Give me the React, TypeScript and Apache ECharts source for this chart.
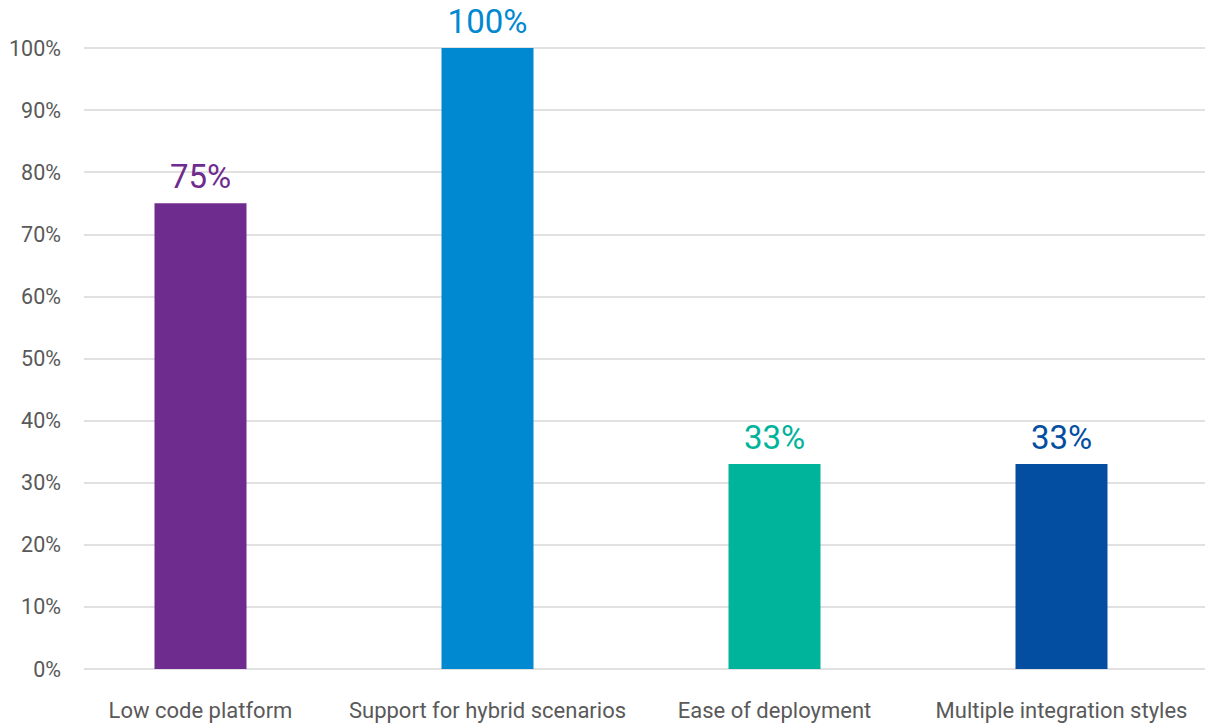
import React, { useEffect, useRef } from "react";
import * as echarts from "echarts";

const categories = [
  "Low code platform",
  "Support for hybrid scenarios",
  "Ease of deployment",
  "Multiple integration styles",
];
const values = [75, 100, 33, 33];
const barColors = ["#6F2C8F", "#0089D1", "#00B39B", "#044EA2"];
const yTicks = { min: 0, max: 100, interval: 10 };

const FONT = "Roboto, 'Noto Sans', sans-serif";

export default function App() {
  const ref = useRef<HTMLDivElement>(null);
  useEffect(() => {
    document.body.style.margin = "0";
    const chart = echarts.init(ref.current!, null, { renderer: "svg" });
    chart.setOption({
      animation: false,
      backgroundColor: "#ffffff",
      grid: [
        { left: 84, right: 0, top: 48, bottom: 55 },
        { left: 57, right: 0, top: 48, bottom: 55 },
      ],
      xAxis: [
        { type: "category", gridIndex: 0, data: categories, show: false },
        {
          type: "category",
          gridIndex: 1,
          data: categories,
          axisLine: { show: false },
          axisTick: { show: false },
          axisLabel: {
            interval: 0,
            margin: 30,
            fontSize: 22,
            color: "#595959",
            fontFamily: FONT,
          },
        },
      ],
      yAxis: [
        {
          type: "value",
          gridIndex: 0,
          min: yTicks.min,
          max: yTicks.max,
          interval: yTicks.interval,
          axisLine: { show: false },
          axisTick: { show: false },
          axisLabel: {
            formatter: "{value}%",
            margin: 23,
            fontSize: 21.5,
            color: "#595959",
            fontFamily: FONT,
          },
          splitLine: { lineStyle: { color: "#e1e1e1", width: 2 } },
        },
        {
          type: "value",
          gridIndex: 1,
          min: yTicks.min,
          max: yTicks.max,
          interval: yTicks.interval,
          show: false,
          splitLine: { show: false },
        },
      ],
      series: [
        {
          type: "bar",
          xAxisIndex: 1,
          yAxisIndex: 1,
          barWidth: 92,
          data: values.map((v, i) => ({
            value: v,
            itemStyle: { color: barColors[i] },
            label: { color: barColors[i] },
          })),
          label: {
            show: true,
            position: "top",
            distance: 10,
            formatter: "{c}%",
            fontSize: 33,
            fontFamily: FONT,
          },
        },
      ],
    });
    return () => chart.dispose();
  }, []);
  return <div ref={ref} style={{ width: 1205, height: 724 }} />;
}
